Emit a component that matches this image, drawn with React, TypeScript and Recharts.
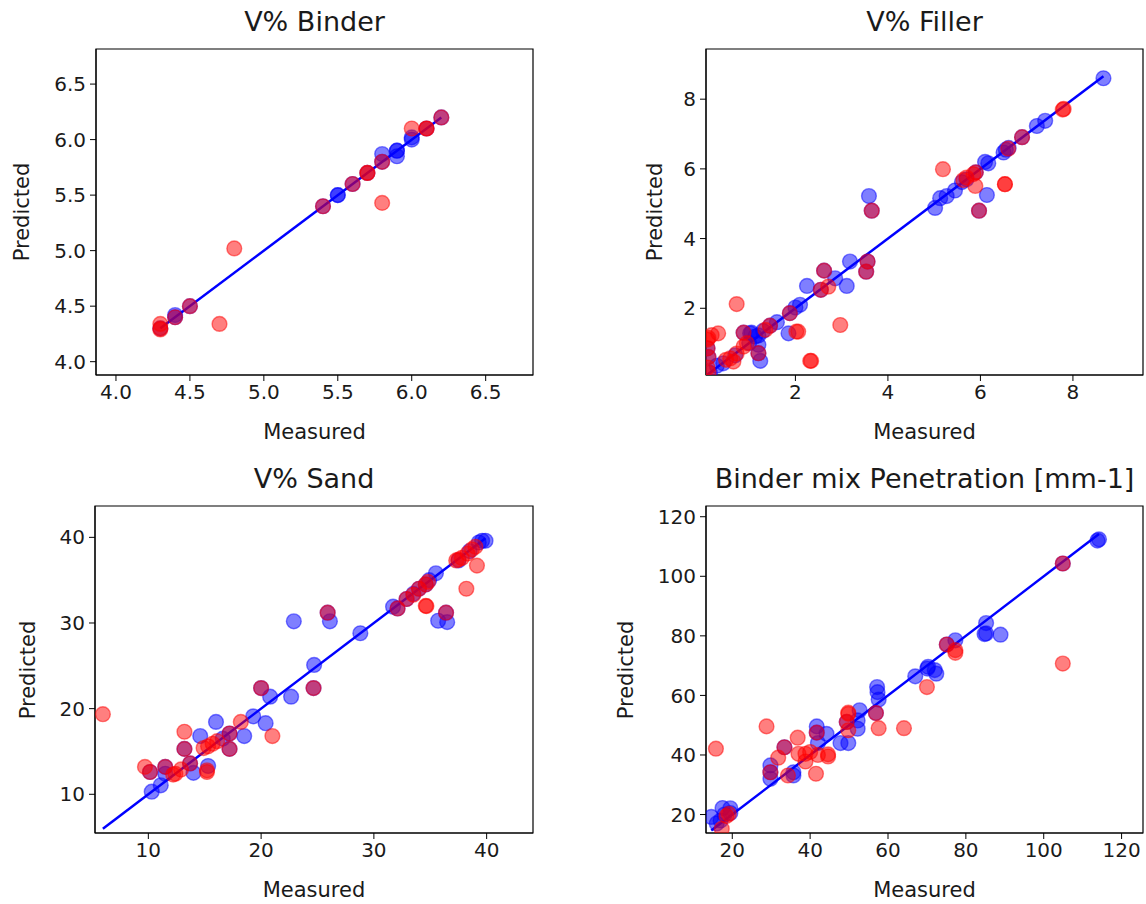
import React from "react";
import { ScatterChart, Scatter, XAxis, YAxis, ReferenceLine, ReferenceArea } from "recharts";

type Pt = { x: number; y: number };

// V% Binder
const binderBlue: Pt[] = [
  { x: 4.3, y: 4.3 }, { x: 4.4, y: 4.4 }, { x: 4.4, y: 4.42 }, { x: 4.5, y: 4.5 },
  { x: 5.4, y: 5.4 }, { x: 5.5, y: 5.5 }, { x: 5.5, y: 5.5 }, { x: 5.6, y: 5.6 },
  { x: 5.7, y: 5.7 }, { x: 5.8, y: 5.8 }, { x: 5.8, y: 5.87 }, { x: 5.9, y: 5.9 },
  { x: 5.9, y: 5.9 }, { x: 5.9, y: 5.85 }, { x: 6.0, y: 6.0 }, { x: 6.0, y: 6.02 },
  { x: 6.1, y: 6.1 }, { x: 6.2, y: 6.2 },
];
const binderRed: Pt[] = [
  { x: 4.3, y: 4.29 }, { x: 4.3, y: 4.3 }, { x: 4.3, y: 4.34 }, { x: 4.4, y: 4.4 },
  { x: 4.5, y: 4.5 }, { x: 4.7, y: 4.34 }, { x: 4.8, y: 5.02 }, { x: 5.4, y: 5.4 },
  { x: 5.6, y: 5.6 }, { x: 5.7, y: 5.7 }, { x: 5.7, y: 5.7 }, { x: 5.8, y: 5.8 },
  { x: 5.8, y: 5.43 }, { x: 6.0, y: 6.1 }, { x: 6.1, y: 6.1 }, { x: 6.1, y: 6.1 },
  { x: 6.2, y: 6.2 },
];
const binderTicks = [4.0, 4.5, 5.0, 5.5, 6.0, 6.5];

// V% Filler
const fillerBlue: Pt[] = [
  { x: 8.66, y: 8.6 }, { x: 7.4, y: 7.38 }, { x: 7.22, y: 7.23 }, { x: 6.9, y: 6.91 },
  { x: 6.61, y: 6.6 }, { x: 6.5, y: 6.47 }, { x: 6.55, y: 6.55 }, { x: 6.17, y: 6.16 },
  { x: 6.1, y: 6.2 }, { x: 5.9, y: 5.9 }, { x: 5.7, y: 5.7 }, { x: 5.6, y: 5.62 },
  { x: 5.45, y: 5.38 }, { x: 5.27, y: 5.22 }, { x: 5.13, y: 5.16 }, { x: 5.02, y: 4.88 },
  { x: 6.14, y: 5.25 }, { x: 5.97, y: 4.8 }, { x: 3.59, y: 5.22 }, { x: 3.65, y: 4.8 },
  { x: 3.56, y: 3.34 }, { x: 3.18, y: 3.34 }, { x: 3.53, y: 3.05 }, { x: 2.86, y: 2.86 },
  { x: 3.11, y: 2.64 }, { x: 2.62, y: 3.08 }, { x: 2.55, y: 2.53 }, { x: 2.25, y: 2.64 },
  { x: 2.1, y: 2.1 }, { x: 2.0, y: 2.02 }, { x: 1.88, y: 1.86 }, { x: 1.85, y: 1.28 },
  { x: 1.6, y: 1.6 }, { x: 1.45, y: 1.5 }, { x: 1.3, y: 1.35 }, { x: 1.2, y: 1.22 },
  { x: 1.13, y: 1.19 }, { x: 1.05, y: 1.3 }, { x: 1.02, y: 1.28 }, { x: 1.0, y: 1.0 },
  { x: 1.2, y: 0.95 }, { x: 1.2, y: 0.71 }, { x: 1.24, y: 0.49 }, { x: 0.88, y: 1.3 },
  { x: 0.7, y: 0.65 }, { x: 0.44, y: 0.42 }, { x: 0.3, y: 0.35 }, { x: 0.15, y: 0.15 },
  { x: 0.12, y: 0.6 }, { x: 0.1, y: 0.85 },
];
const fillerRed: Pt[] = [
  { x: 7.8, y: 7.72 }, { x: 7.78, y: 7.7 }, { x: 6.9, y: 6.91 }, { x: 6.6, y: 6.58 },
  { x: 5.19, y: 5.99 }, { x: 5.63, y: 5.68 }, { x: 5.7, y: 5.75 }, { x: 5.85, y: 5.85 },
  { x: 5.9, y: 5.9 }, { x: 5.89, y: 5.51 }, { x: 6.53, y: 5.56 }, { x: 6.53, y: 5.56 },
  { x: 5.97, y: 4.8 }, { x: 3.65, y: 4.8 }, { x: 3.56, y: 3.34 }, { x: 3.53, y: 3.05 },
  { x: 2.62, y: 3.08 }, { x: 2.71, y: 2.62 }, { x: 2.55, y: 2.53 }, { x: 2.97, y: 1.52 },
  { x: 1.88, y: 1.86 }, { x: 2.06, y: 1.33 }, { x: 2.02, y: 1.33 }, { x: 2.34, y: 0.49 },
  { x: 2.32, y: 0.49 }, { x: 0.73, y: 2.12 }, { x: 0.88, y: 1.3 }, { x: 1.2, y: 0.71 },
  { x: 1.45, y: 1.5 }, { x: 1.35, y: 1.38 }, { x: 0.33, y: 1.28 }, { x: 0.19, y: 1.23 },
  { x: 0.12, y: 1.15 }, { x: 0.1, y: 1.1 }, { x: 0.1, y: 0.85 }, { x: 0.12, y: 0.6 },
  { x: 0.1, y: 0.3 }, { x: 0.12, y: 0.15 }, { x: 0.59, y: 0.56 }, { x: 0.73, y: 0.7 },
  { x: 0.66, y: 0.47 }, { x: 0.88, y: 0.9 }, { x: 0.95, y: 1.0 }, { x: 0.5, y: 0.52 },
];
const fillerTicks = [2, 4, 6, 8];

// V% Sand
const sandBlue: Pt[] = [
  { x: 39.9, y: 39.6 }, { x: 39.6, y: 39.6 }, { x: 39.3, y: 39.4 }, { x: 38.5, y: 38.4 },
  { x: 37.5, y: 37.3 }, { x: 35.5, y: 35.8 }, { x: 34.9, y: 35.0 }, { x: 34.6, y: 34.5 },
  { x: 34.0, y: 34.0 }, { x: 33.5, y: 33.4 }, { x: 32.9, y: 32.8 }, { x: 31.7, y: 31.9 },
  { x: 32.1, y: 31.7 }, { x: 36.4, y: 31.2 }, { x: 35.7, y: 30.26 }, { x: 36.5, y: 30.1 },
  { x: 28.8, y: 28.8 }, { x: 22.9, y: 30.2 }, { x: 25.9, y: 31.2 }, { x: 26.1, y: 30.2 },
  { x: 24.7, y: 25.1 }, { x: 24.65, y: 22.4 }, { x: 22.66, y: 21.4 }, { x: 20.8, y: 21.4 },
  { x: 20.0, y: 22.4 }, { x: 19.3, y: 19.1 }, { x: 20.4, y: 18.3 }, { x: 16.0, y: 18.45 },
  { x: 14.6, y: 16.8 }, { x: 18.5, y: 16.8 }, { x: 17.2, y: 17.1 }, { x: 17.2, y: 15.3 },
  { x: 13.2, y: 15.3 }, { x: 15.3, y: 13.3 }, { x: 10.15, y: 12.6 }, { x: 10.3, y: 10.3 },
  { x: 11.1, y: 11.05 }, { x: 11.5, y: 13.2 }, { x: 11.5, y: 12.4 }, { x: 13.7, y: 13.6 },
  { x: 14.0, y: 12.5 }, { x: 16.6, y: 16.5 },
];
const sandRed: Pt[] = [
  { x: 5.97, y: 19.35 }, { x: 39.0, y: 38.9 }, { x: 38.7, y: 38.6 }, { x: 38.3, y: 38.1 },
  { x: 37.8, y: 37.6 }, { x: 37.5, y: 37.4 }, { x: 37.3, y: 37.3 }, { x: 39.14, y: 36.7 },
  { x: 38.2, y: 34.0 }, { x: 34.8, y: 34.8 }, { x: 34.6, y: 34.5 }, { x: 34.0, y: 34.0 },
  { x: 33.5, y: 33.3 }, { x: 32.9, y: 32.8 }, { x: 32.1, y: 31.7 }, { x: 34.66, y: 31.97 },
  { x: 34.6, y: 32.0 }, { x: 36.4, y: 31.2 }, { x: 25.9, y: 31.2 }, { x: 24.65, y: 22.4 },
  { x: 20.0, y: 22.4 }, { x: 21.0, y: 16.8 }, { x: 18.2, y: 18.45 }, { x: 13.2, y: 17.3 },
  { x: 13.2, y: 15.3 }, { x: 17.2, y: 15.3 }, { x: 17.2, y: 17.1 }, { x: 14.9, y: 15.4 },
  { x: 15.3, y: 15.6 }, { x: 15.7, y: 15.9 }, { x: 16.1, y: 16.2 }, { x: 15.2, y: 12.6 },
  { x: 15.2, y: 12.8 }, { x: 9.7, y: 13.2 }, { x: 10.15, y: 12.6 }, { x: 11.5, y: 13.2 },
  { x: 12.4, y: 12.4 }, { x: 12.2, y: 12.3 }, { x: 12.9, y: 12.9 }, { x: 13.7, y: 13.6 },
];
const sandTicks = [10, 20, 30, 40];

// Binder mix Penetration [mm-1]
const penBlue: Pt[] = [
  { x: 114.2, y: 112.4 }, { x: 113.8, y: 112.0 }, { x: 104.9, y: 104.3 }, { x: 85.2, y: 84.3 },
  { x: 85.2, y: 80.8 }, { x: 84.8, y: 80.6 }, { x: 88.9, y: 80.4 }, { x: 77.3, y: 78.5 },
  { x: 75.1, y: 77.1 }, { x: 70.1, y: 69.0 }, { x: 70.3, y: 69.6 }, { x: 72.4, y: 67.3 },
  { x: 72.0, y: 68.5 }, { x: 67.0, y: 66.4 }, { x: 57.2, y: 62.8 }, { x: 57.3, y: 61.1 },
  { x: 57.6, y: 58.6 }, { x: 56.9, y: 54.1 }, { x: 52.7, y: 55.0 }, { x: 52.2, y: 51.6 },
  { x: 52.2, y: 48.8 }, { x: 49.8, y: 44.0 }, { x: 49.4, y: 51.1 }, { x: 47.8, y: 44.0 },
  { x: 41.7, y: 47.5 }, { x: 41.7, y: 49.6 }, { x: 44.2, y: 47.1 }, { x: 42.0, y: 44.0 },
  { x: 35.7, y: 34.2 }, { x: 35.7, y: 33.1 }, { x: 33.4, y: 42.6 }, { x: 29.8, y: 36.5 },
  { x: 29.8, y: 32.0 }, { x: 29.8, y: 34.2 }, { x: 14.6, y: 19.2 }, { x: 17.5, y: 22.2 },
  { x: 19.5, y: 22.1 }, { x: 17.0, y: 18.0 }, { x: 18.0, y: 20.0 }, { x: 19.5, y: 20.5 },
  { x: 16.0, y: 17.0 },
];
const penRed: Pt[] = [
  { x: 104.9, y: 104.3 }, { x: 104.9, y: 70.7 }, { x: 77.3, y: 75.2 }, { x: 77.3, y: 74.3 },
  { x: 75.1, y: 77.1 }, { x: 70.0, y: 62.8 }, { x: 64.1, y: 49.0 }, { x: 57.6, y: 49.0 },
  { x: 56.9, y: 54.1 }, { x: 49.8, y: 54.2 }, { x: 49.8, y: 53.8 }, { x: 49.8, y: 48.3 },
  { x: 49.4, y: 51.1 }, { x: 41.7, y: 47.5 }, { x: 44.6, y: 39.5 }, { x: 44.6, y: 40.2 },
  { x: 41.5, y: 33.7 }, { x: 37.0, y: 40.4 }, { x: 38.8, y: 40.4 }, { x: 38.8, y: 37.8 },
  { x: 36.8, y: 45.8 }, { x: 33.4, y: 42.6 }, { x: 34.3, y: 33.1 }, { x: 31.8, y: 39.1 },
  { x: 29.8, y: 34.2 }, { x: 28.8, y: 49.6 }, { x: 15.8, y: 42.1 }, { x: 17.3, y: 15.2 },
  { x: 19.1, y: 20.2 }, { x: 18.5, y: 19.5 }, { x: 40.0, y: 41.0 }, { x: 42.0, y: 40.0 },
];
const penTicks = [20, 40, 60, 80, 100, 120];

const FONT = "'DejaVu Sans', sans-serif";

const blueDot = (p: any) => (
  <circle cx={p.cx} cy={p.cy} r={7.4} fill="#0000ff" fillOpacity={0.5} stroke="#0000ff" strokeOpacity={0.5} strokeWidth={1.4} />
);
const redDot = (p: any) => (
  <circle cx={p.cx} cy={p.cy} r={7.4} fill="#ff0000" fillOpacity={0.5} stroke="#ff0000" strokeOpacity={0.5} strokeWidth={1.4} />
);

type PanelProps = {
  title: string;
  px: number;
  py: number;
  pw: number;
  ph: number;
  xDomain: [number, number];
  yDomain: [number, number];
  xTicks: number[];
  yTicks: number[];
  blue: Pt[];
  red: Pt[];
  line: [number, number];
  ylabelX: number;
  fmt?: (v: number) => string;
};

const Panel = (props: PanelProps) => {
  const { title, px, py, pw, ph, xDomain, yDomain, xTicks, yTicks, blue, red, line, ylabelX, fmt } = props;
  const yw = 70;
  const top = 10;
  const right = 3;
  const xh = 40;
  const tickStyle = { fill: "#1a1a1a", fontSize: 20, fontFamily: FONT };
  return (
    <>
      <div
        style={{
          position: "absolute",
          left: px + pw / 2,
          top: py - 14,
          transform: "translate(-50%, -100%)",
          fontSize: 27,
          lineHeight: "27px",
          whiteSpace: "nowrap",
          color: "#1a1a1a",
        }}
      >
        {title}
      </div>
      <div style={{ position: "absolute", left: px - yw, top: py - top }}>
        <ScatterChart width={yw + pw + right} height={top + ph + xh} margin={{ top, right, left: 0, bottom: 0 }}>
          <XAxis
            type="number"
            dataKey="x"
            domain={xDomain}
            ticks={xTicks}
            allowDataOverflow
            height={xh}
            tickFormatter={fmt}
            stroke="#000"
            tickSize={6}
            tickMargin={4}
            tick={tickStyle}
          />
          <YAxis
            type="number"
            dataKey="y"
            domain={yDomain}
            ticks={yTicks}
            allowDataOverflow
            width={yw}
            tickFormatter={fmt}
            stroke="#000"
            tickSize={6}
            tickMargin={4}
            tick={tickStyle}
          />
          <ReferenceArea x1={xDomain[0]} x2={xDomain[1]} y1={yDomain[0]} y2={yDomain[1]} fill="none" stroke="#000" strokeWidth={1.2} />
          <Scatter data={blue} shape={blueDot} isAnimationActive={false} />
          <Scatter data={red} shape={redDot} isAnimationActive={false} />
          <ReferenceLine
            segment={[{ x: line[0], y: line[0] }, { x: line[1], y: line[1] }]}
            stroke="#0000ff"
            strokeWidth={2.5}
            ifOverflow="hidden"
          />
        </ScatterChart>
      </div>
      <div
        style={{
          position: "absolute",
          left: px + pw / 2,
          top: py + ph + 57,
          transform: "translate(-50%, -50%)",
          fontSize: 21,
          whiteSpace: "nowrap",
          color: "#1a1a1a",
        }}
      >
        Measured
      </div>
      <div
        style={{
          position: "absolute",
          left: ylabelX,
          top: py + ph / 2,
          transform: "translate(-50%, -50%) rotate(-90deg)",
          fontSize: 21,
          whiteSpace: "nowrap",
          color: "#1a1a1a",
        }}
      >
        Predicted
      </div>
    </>
  );
};

const one = (v: number) => v.toFixed(1);

export default function App() {
  return (
    <div
      style={{
        position: "absolute",
        left: 0,
        top: 0,
        width: 1146,
        height: 904,
        overflow: "hidden",
        background: "#fff",
        fontFamily: FONT,
      }}
    >
      <Panel
        title="V% Binder"
        px={96} py={49} pw={437} ph={326}
        xDomain={[3.865, 6.82]} yDomain={[3.88, 6.816]}
        xTicks={binderTicks} yTicks={binderTicks}
        blue={binderBlue} red={binderRed}
        line={[4.3, 6.2]}
        ylabelX={22}
        fmt={one}
      />
      <Panel
        title="V% Filler"
        px={706} py={49} pw={437} ph={326}
        xDomain={[0.067, 9.515]} yDomain={[0.085, 9.44]}
        xTicks={fillerTicks} yTicks={fillerTicks}
        blue={fillerBlue} red={fillerRed}
        line={[0.1, 8.66]}
        ylabelX={655}
      />
      <Panel
        title="V% Sand"
        px={95} py={506} pw={438} ph={327}
        xDomain={[5.27, 44.11]} yDomain={[5.48, 43.66]}
        xTicks={sandTicks} yTicks={sandTicks}
        blue={sandBlue} red={sandRed}
        line={[5.97, 39.9]}
        ylabelX={28}
      />
      <Panel
        title="Binder mix Penetration [mm-1]"
        px={706} py={506} pw={437} ph={327}
        xDomain={[13.25, 125.5]} yDomain={[13.8, 123.6]}
        xTicks={penTicks} yTicks={penTicks}
        blue={penBlue} red={penRed}
        line={[14.6, 114.2]}
        ylabelX={626}
      />
    </div>
  );
}
